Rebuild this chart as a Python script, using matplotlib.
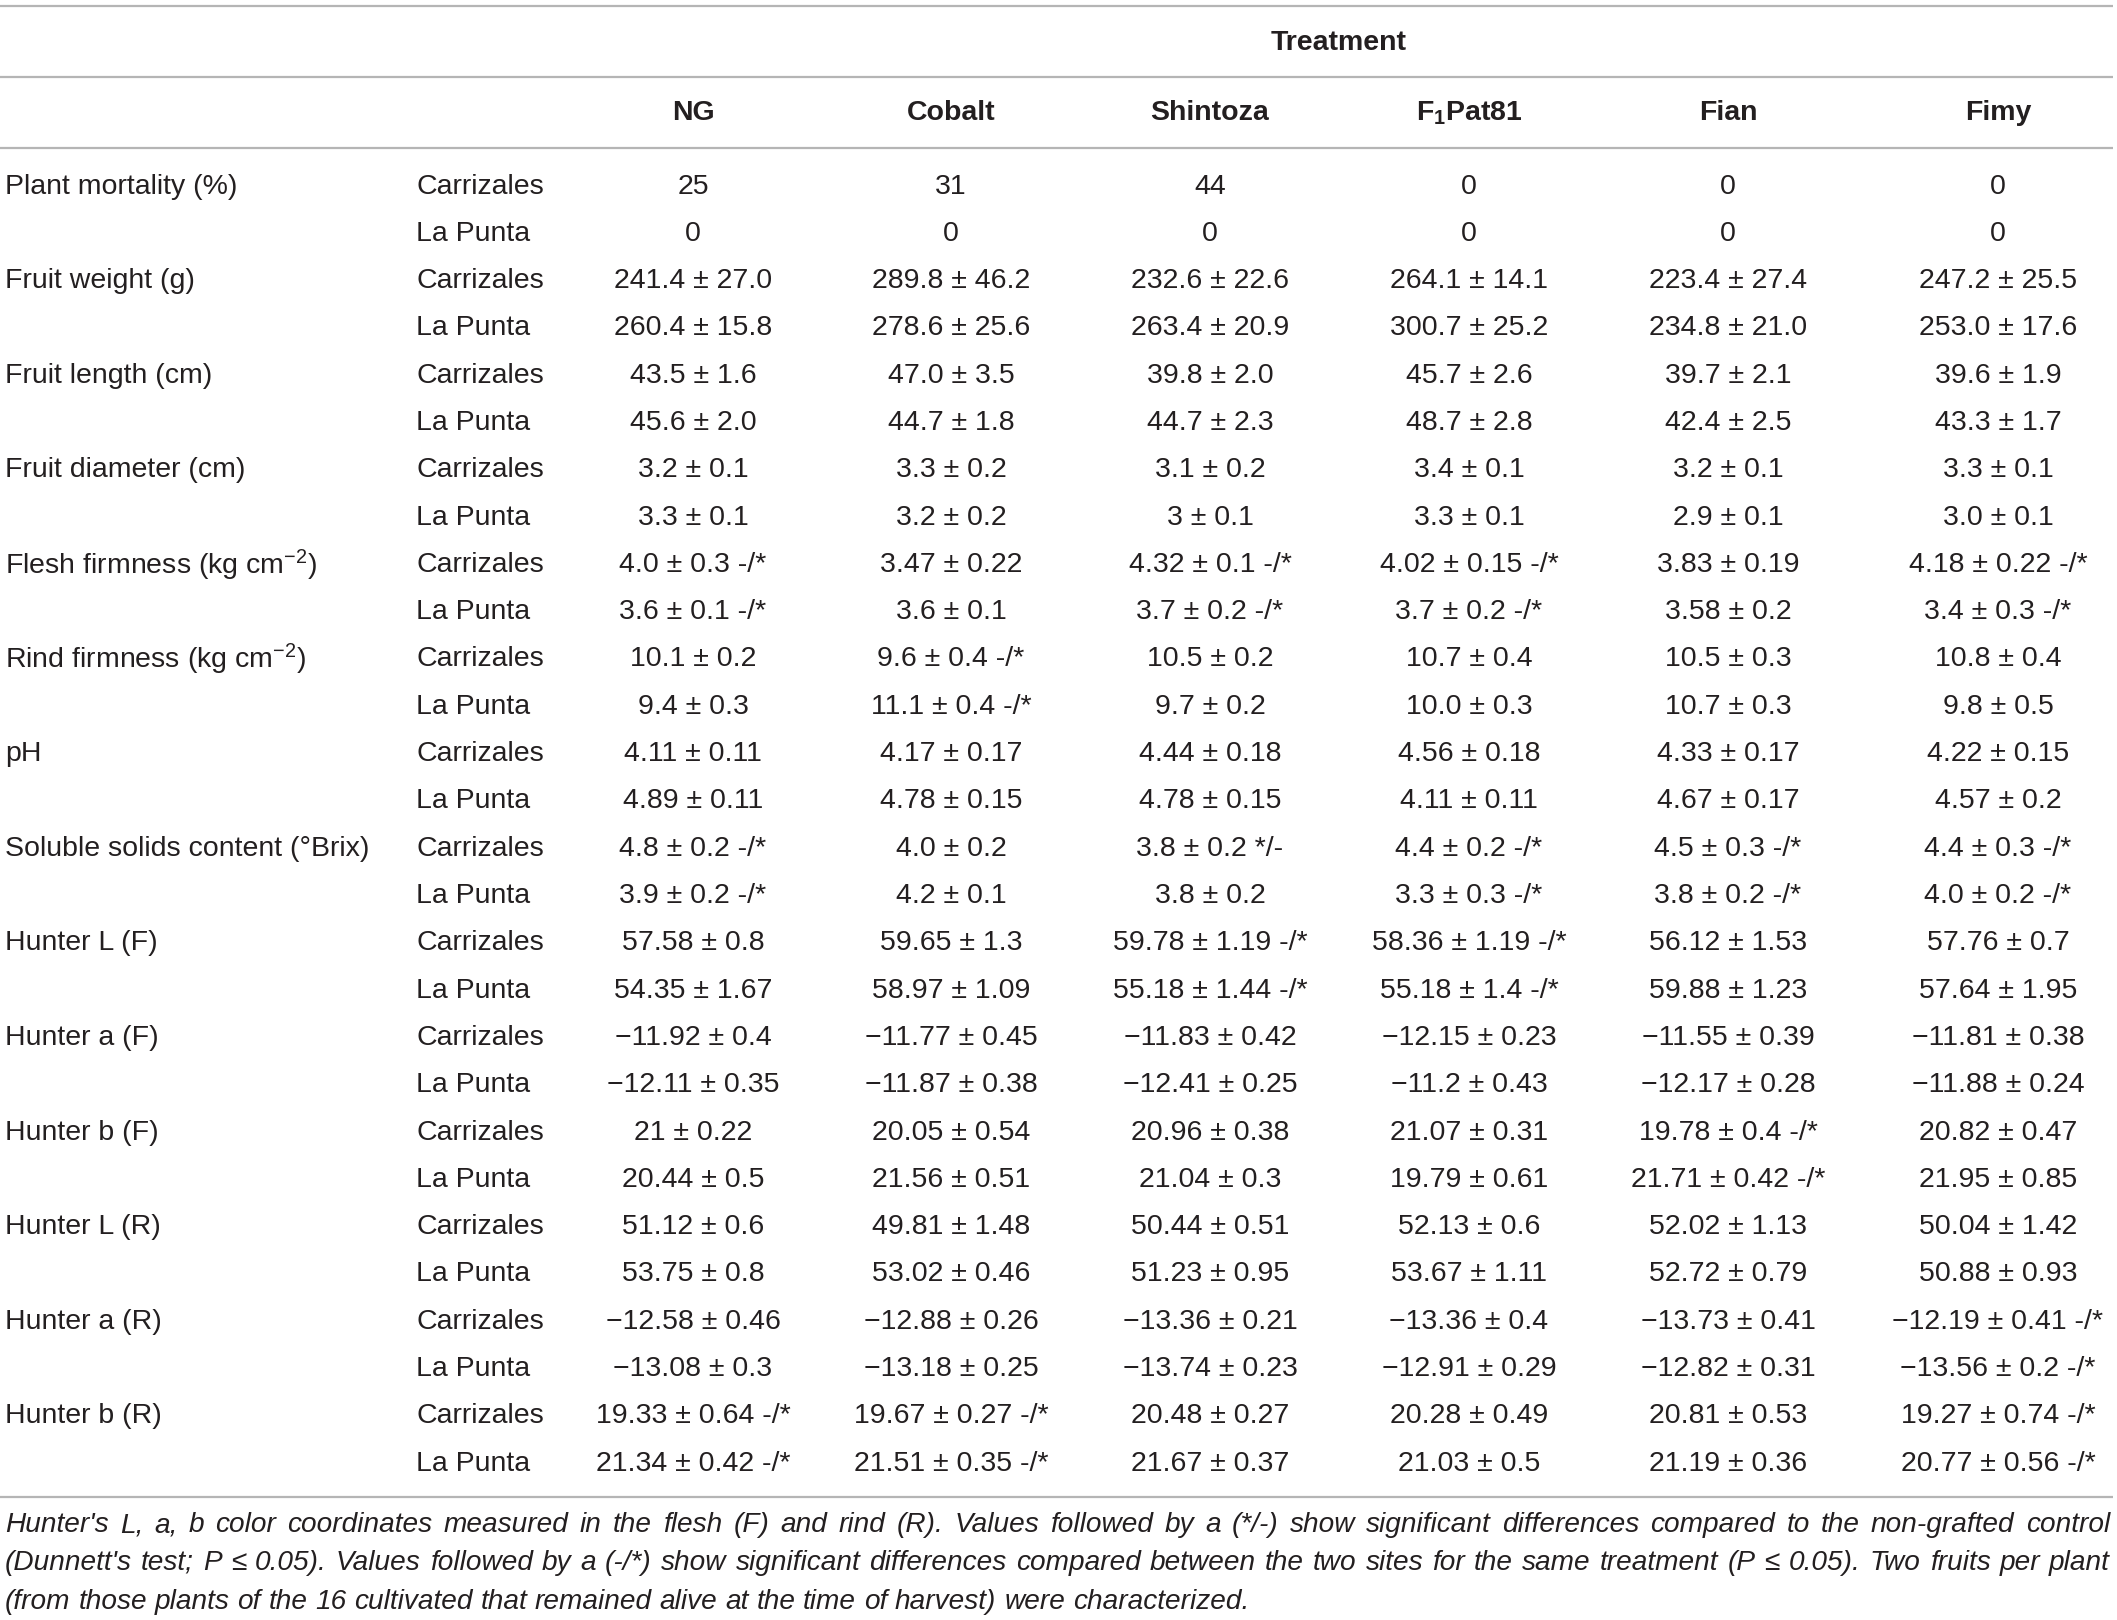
import matplotlib
matplotlib.use("Agg")
import matplotlib.pyplot as plt

plt.rcParams['font.family'] = ['Liberation Sans', 'DejaVu Sans']
plt.rcParams['mathtext.default'] = 'regular'

# column headers
treatments = ["NG", "Cobalt", "Shintoza", "F$_1$Pat81", "Fian", "Fimy"]
sites = ["Carrizales", "La Punta"]

variables = [
    "Plant mortality (%)",
    "Fruit weight (g)",
    "Fruit length (cm)",
    "Fruit diameter (cm)",
    "Flesh firmness (kg cm$^{\u2212 2}$)",
    "Rind firmness (kg cm$^{\u2212 2}$)",
    "pH",
    "Soluble solids content (\u00b0Brix)",
    "Hunter L (F)",
    "Hunter a (F)",
    "Hunter b (F)",
    "Hunter L (R)",
    "Hunter a (R)",
    "Hunter b (R)",
]

# one list per variable: [Carrizales row, La Punta row]
mortality = [["25", "31", "44", "0", "0", "0"],
             ["0", "0", "0", "0", "0", "0"]]
fruit_weight = [["241.4 ± 27.0", "289.8 ± 46.2", "232.6 ± 22.6", "264.1 ± 14.1", "223.4 ± 27.4", "247.2 ± 25.5"],
                ["260.4 ± 15.8", "278.6 ± 25.6", "263.4 ± 20.9", "300.7 ± 25.2", "234.8 ± 21.0", "253.0 ± 17.6"]]
fruit_length = [["43.5 ± 1.6", "47.0 ± 3.5", "39.8 ± 2.0", "45.7 ± 2.6", "39.7 ± 2.1", "39.6 ± 1.9"],
                ["45.6 ± 2.0", "44.7 ± 1.8", "44.7 ± 2.3", "48.7 ± 2.8", "42.4 ± 2.5", "43.3 ± 1.7"]]
fruit_diam = [["3.2 ± 0.1", "3.3 ± 0.2", "3.1 ± 0.2", "3.4 ± 0.1", "3.2 ± 0.1", "3.3 ± 0.1"],
              ["3.3 ± 0.1", "3.2 ± 0.2", "3 ± 0.1", "3.3 ± 0.1", "2.9 ± 0.1", "3.0 ± 0.1"]]
flesh_firm = [["4.0 ± 0.3 -/*", "3.47 ± 0.22", "4.32 ± 0.1 -/*", "4.02 ± 0.15 -/*", "3.83 ± 0.19", "4.18 ± 0.22 -/*"],
              ["3.6 ± 0.1 -/*", "3.6 ± 0.1", "3.7 ± 0.2 -/*", "3.7 ± 0.2 -/*", "3.58 ± 0.2", "3.4 ± 0.3 -/*"]]
rind_firm = [["10.1 ± 0.2", "9.6 ± 0.4 -/*", "10.5 ± 0.2", "10.7 ± 0.4", "10.5 ± 0.3", "10.8 ± 0.4"],
             ["9.4 ± 0.3", "11.1 ± 0.4 -/*", "9.7 ± 0.2", "10.0 ± 0.3", "10.7 ± 0.3", "9.8 ± 0.5"]]
ph = [["4.11 ± 0.11", "4.17 ± 0.17", "4.44 ± 0.18", "4.56 ± 0.18", "4.33 ± 0.17", "4.22 ± 0.15"],
      ["4.89 ± 0.11", "4.78 ± 0.15", "4.78 ± 0.15", "4.11 ± 0.11", "4.67 ± 0.17", "4.57 ± 0.2"]]
ssc = [["4.8 ± 0.2 -/*", "4.0 ± 0.2", "3.8 ± 0.2 */-", "4.4 ± 0.2 -/*", "4.5 ± 0.3 -/*", "4.4 ± 0.3 -/*"],
       ["3.9 ± 0.2 -/*", "4.2 ± 0.1", "3.8 ± 0.2", "3.3 ± 0.3 -/*", "3.8 ± 0.2 -/*", "4.0 ± 0.2 -/*"]]
hunter_lf = [["57.58 ± 0.8", "59.65 ± 1.3", "59.78 ± 1.19 -/*", "58.36 ± 1.19 -/*", "56.12 ± 1.53", "57.76 ± 0.7"],
             ["54.35 ± 1.67", "58.97 ± 1.09", "55.18 ± 1.44 -/*", "55.18 ± 1.4 -/*", "59.88 ± 1.23", "57.64 ± 1.95"]]
hunter_af = [["−11.92 ± 0.4", "−11.77 ± 0.45", "−11.83 ± 0.42", "−12.15 ± 0.23", "−11.55 ± 0.39", "−11.81 ± 0.38"],
             ["−12.11 ± 0.35", "−11.87 ± 0.38", "−12.41 ± 0.25", "−11.2 ± 0.43", "−12.17 ± 0.28", "−11.88 ± 0.24"]]
hunter_bf = [["21 ± 0.22", "20.05 ± 0.54", "20.96 ± 0.38", "21.07 ± 0.31", "19.78 ± 0.4 -/*", "20.82 ± 0.47"],
             ["20.44 ± 0.5", "21.56 ± 0.51", "21.04 ± 0.3", "19.79 ± 0.61", "21.71 ± 0.42 -/*", "21.95 ± 0.85"]]
hunter_lr = [["51.12 ± 0.6", "49.81 ± 1.48", "50.44 ± 0.51", "52.13 ± 0.6", "52.02 ± 1.13", "50.04 ± 1.42"],
             ["53.75 ± 0.8", "53.02 ± 0.46", "51.23 ± 0.95", "53.67 ± 1.11", "52.72 ± 0.79", "50.88 ± 0.93"]]
hunter_ar = [["−12.58 ± 0.46", "−12.88 ± 0.26", "−13.36 ± 0.21", "−13.36 ± 0.4", "−13.73 ± 0.41", "−12.19 ± 0.41 -/*"],
             ["−13.08 ± 0.3", "−13.18 ± 0.25", "−13.74 ± 0.23", "−12.91 ± 0.29", "−12.82 ± 0.31", "−13.56 ± 0.2 -/*"]]
hunter_br = [["19.33 ± 0.64 -/*", "19.67 ± 0.27 -/*", "20.48 ± 0.27", "20.28 ± 0.49", "20.81 ± 0.53", "19.27 ± 0.74 -/*"],
             ["21.34 ± 0.42 -/*", "21.51 ± 0.35 -/*", "21.67 ± 0.37", "21.03 ± 0.5", "21.19 ± 0.36", "20.77 ± 0.56 -/*"]]

table_values = [mortality, fruit_weight, fruit_length, fruit_diam, flesh_firm, rind_firm, ph,
                ssc, hunter_lf, hunter_af, hunter_bf, hunter_lr, hunter_ar, hunter_br]

footnote = [
    "Hunter's L, a, b color coordinates measured in the flesh (F) and rind (R). Values followed by a (*/-) show significant differences compared to the non-grafted control",
    "(Dunnett's test; P \u2264 0.05). Values followed by a (-/*) show significant differences compared between the two sites for the same treatment (P \u2264 0.05). Two fruits per plant",
    "(from those plants of the 16 cultivated that remained alive at the time of harvest) were characterized.",
]

W, H = 2117, 1620
fig = plt.figure(figsize=(W / 100, H / 100), dpi=100)
ax = fig.add_axes([0, 0, 1, 1])
ax.set_xlim(0, W)
ax.set_ylim(H, 0)
ax.axis("off")

txt = "#231f20"
fs = 20.5
line_col = "#b5b5b5"

col_x = [693, 951, 1210, 1469, 1728, 1998]
label_x = 5
site_x = 416
row0 = 186.5
row_h = 47.3

# horizontal rules
for y in [6, 77, 148, 1497]:
    ax.plot([0, 2113], [y, y], color=line_col, lw=1.6, solid_capstyle="butt")

ax.text(1339, 43, "Treatment", ha="center", va="center", fontsize=fs, fontweight="bold", color=txt)
for x, name in zip(col_x, treatments):
    ax.text(x, 113.5, name, ha="center", va="center", fontsize=fs, fontweight="bold", color=txt)

r = 0
for var, vals in zip(variables, table_values):
    for k, site in enumerate(sites):
        y = row0 + r * row_h
        if k == 0:
            ax.text(label_x, y, var, ha="left", va="center", fontsize=fs, color=txt)
        ax.text(site_x, y, site, ha="left", va="center", fontsize=fs, color=txt)
        for x, v in zip(col_x, vals[k]):
            ax.text(x, y, v, ha="center", va="center", fontsize=fs, color=txt)
        r += 1

# footnote, justified like the original (last line left aligned)
renderer = fig.canvas.get_renderer()
fn_size = 20.2
x_left, x_right = 5, 2110
for i, line in enumerate(footnote):
    y = 1525 + i * 38.5
    words = line.split(" ")
    items = []
    for w in words:
        t = ax.text(0, y, w, ha="left", va="center", fontsize=fn_size, style="italic", color=txt)
        items.append((t, t.get_window_extent(renderer).width))
    space = ax.text(0, 0, "a a", fontsize=fn_size, style="italic").get_window_extent(renderer).width \
        - 2 * ax.text(0, 0, "a", fontsize=fn_size, style="italic").get_window_extent(renderer).width
    for a in ax.texts[-2:]:
        a.remove()
    total = sum(wd for _, wd in items)
    if i < len(footnote) - 1:
        gap = (x_right - x_left - total) / (len(items) - 1)
    else:
        gap = space
    x = x_left
    for t, wd in items:
        t.set_x(x)
        x += wd + gap

fig.savefig("out.png", dpi=100)
